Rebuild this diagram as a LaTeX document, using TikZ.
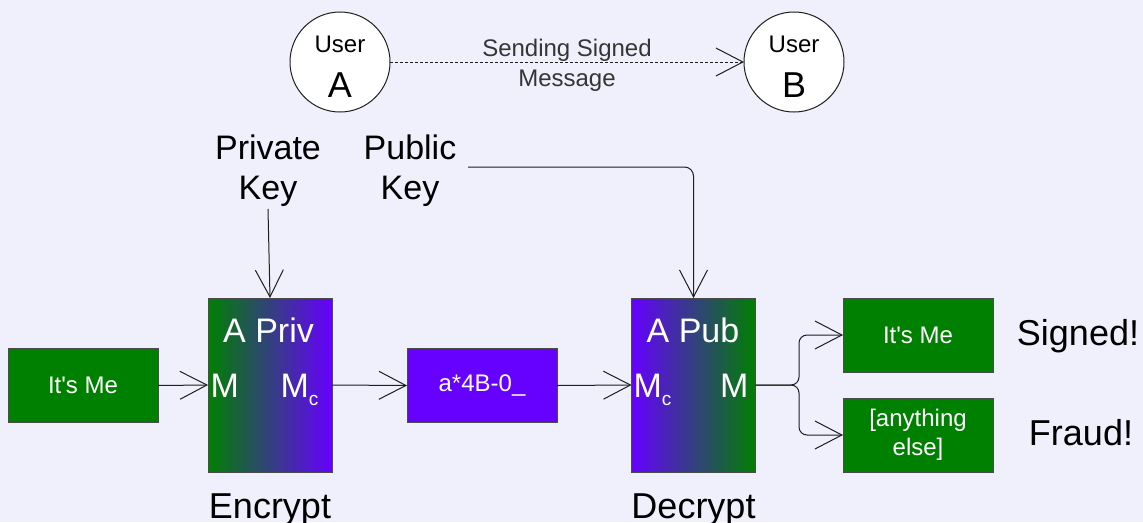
\documentclass[tikz,border=0pt]{standalone}
\usepackage{fontspec}
\setmainfont{Liberation Sans}
\newfontfamily\plainsans{Liberation Sans}
\usetikzlibrary{arrows.meta,calc}
\definecolor{bg}{RGB}{240,240,252}
\definecolor{gr}{RGB}{0,128,0}
\definecolor{pu}{RGB}{102,0,255}
\definecolor{ln}{RGB}{30,30,30}
\begin{document}
\begin{tikzpicture}[x=1pt,y=-1pt,
  every node/.style={inner sep=0pt, outer sep=0pt},
  fsmall/.style={font=\fontsize{24}{30}\selectfont},
  fbig/.style={font=\fontsize{34}{40}\selectfont},
  fhuge/.style={font=\fontsize{36}{42}\selectfont},
  usercirc/.style={circle, draw=ln, fill=white, line width=1pt, minimum size=100pt},
  gbox/.style={draw=ln!80, fill=gr, minimum width=150pt, minimum height=74pt, text=white, align=center, line width=1pt, font=\plainsans\fontsize{24}{29}\selectfont},
  pbox/.style={gbox, fill=pu},
  cryptbox/.style={draw=ln!80, minimum width=124pt, minimum height=174pt, line width=1pt},
  intext/.style={text=white, fbig},
  arr/.style={draw=ln, line width=1pt, -{Straight Barb[length=27pt,width=28pt]}},
]
\fill[bg] (0,0) rectangle (1143,522);
\useasboundingbox (0,0) rectangle (1143,522);

% users
\node[usercirc] (ua) at (340,62) {};
\node[usercirc] (ub) at (794,62) {};
\node[fsmall, anchor=base] (uat) at (340,52) {User};
\node[fhuge, anchor=base] (uaa) at (340,97) {A};
\node[fsmall, anchor=base] (ubt) at (794,52) {User};
\node[fhuge, anchor=base] (ubb) at (794,97) {B};
\draw[arr, densely dashed] (ua.east) -- (ub.west);
\node[fsmall, align=center, text=ln!90] (send) at (567,65) {Sending Signed\\Message};

% keys
\node[fbig, align=center, inner ysep=2pt] (prk) at (268,171) {Private\\Key};
\node[fbig, align=center] (pubk) at (410,171) {Public\\Key};
\coordinate (pkstart) at (468,167);

% boxes
\node[gbox] (m1) at (83,385.5) {It's Me};
\node[cryptbox, left color=gr, right color=pu] (enc) at (270,385) {};
\node[pbox] (ct) at (482,385.5) {a*4B-0\_};
\node[cryptbox, left color=pu, right color=gr] (dec) at (693.5,385) {};
\node[gbox] (ok) at (918,335) {It's Me};
\node[gbox] (bad) at (918,435) {[anything\\else]};

% texts inside crypt boxes
\node[intext, anchor=base] (encT) at (268.5,342) {A Priv};
\node[intext, anchor=base west] (encM) at (210.5,397) {M};
\node[intext, anchor=base west] (encMc) at (280.5,397) {M\raisebox{-8pt}{\fontsize{19}{19}\selectfont c}};
\node[intext, anchor=base] (decT) at (693,342) {A Pub};
\node[intext, anchor=base west] (decMc) at (633.5,397) {M\raisebox{-8pt}{\fontsize{19}{19}\selectfont c}};
\node[intext, anchor=base west] (decM) at (720,397) {M};

% labels
\node[fhuge, anchor=base] (encL) at (270,518) {Encrypt};
\node[fhuge, anchor=base] (decL) at (693.5,518) {Decrypt};
\node[fhuge, anchor=base] (sig) at (1078,345) {Signed!};
\node[fhuge, anchor=base] (fr) at (1081,445) {Fraud!};

% connectors
\draw[arr] (prk.south) -- (enc.north);
\draw[arr, rounded corners=9pt] (pkstart) -| (dec.north);
\draw[arr] (m1.east) -- (enc.west);
\draw[arr] (enc.east) -- (ct.west);
\draw[arr] (ct.east) -- (dec.west);
\draw[arr, rounded corners=8pt] (dec.east) -- (799,385) |- (ok.west);
\draw[arr, rounded corners=8pt] (dec.east) -- (799,385) |- (bad.west);
\end{tikzpicture}
\end{document}
